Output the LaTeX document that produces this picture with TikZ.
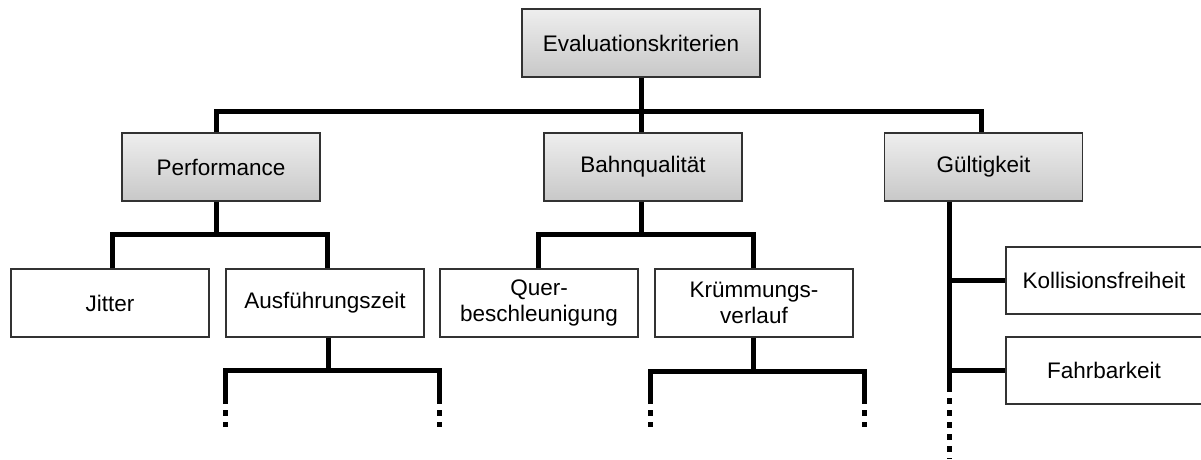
\documentclass[tikz,border=0pt]{standalone}
\usepackage{fontspec}
\setmainfont{Liberation Sans}
\definecolor{gtop}{RGB}{238,238,238}
\definecolor{gbot}{RGB}{200,200,200}
\definecolor{edge}{RGB}{50,50,50}
\begin{document}
\begin{tikzpicture}[x=1pt,y=-1pt,
  box/.style={draw=edge,line width=1.4pt,minimum width=198pt,minimum height=68pt,inner sep=0pt,align=center,
    font=\fontsize{22.5pt}{26pt}\selectfont,text=black},
  graybox/.style={box,top color=gtop,bottom color=gbot},
  whitebox/.style={box,fill=white},
  conn/.style={line width=5pt,line join=miter,black},
  dots/.style={line width=5pt,black,dash pattern=on 6pt off 6pt,dash phase=6pt}]
\fill[white] (0,0) rectangle (1201,459);
\useasboundingbox (0,0) rectangle (1201,459);
% nodes
\node[graybox,minimum width=238pt] (ev) at (641,43) {Evaluationskriterien};
\node[graybox] (perf) at (221,167) {Performance};
\node[graybox] (bq) at (643,167) {Bahnqualität};
\node[graybox] (gue) at (983.5,167) {Gültigkeit};
\node[whitebox] (jit) at (110,303) {Jitter};
\node[whitebox] (aus) at (325,303) {Ausführungszeit};
\node[whitebox] (quer) at (539,303) {Quer-\\beschleunigung};
\node[whitebox] (kruem) at (754,303) {Krümmungs-\\verlauf};
\node[whitebox,minimum height=67pt,minimum width=228pt] (koll) at (1120,280.5) {\hspace*{-32pt}Kollisionsfreiheit};
\node[whitebox,minimum height=67pt,minimum width=228pt] (fahr) at (1120,370.5) {\hspace*{-32pt}Fahrbarkeit};
% junction coordinates
\coordinate (b1) at (641,111);
\coordinate (b2) at (216,234);
\coordinate (b3) at (641,234);
\coordinate (b4) at (328,370);
\coordinate (b5) at (753,371);
\coordinate (d1) at (225,404);
\coordinate (d2) at (439,404);
\coordinate (e1) at (225,427);
\coordinate (e2) at (439,427);
\coordinate (d3) at (650,404);
\coordinate (d4) at (864,404);
\coordinate (e3) at (650,427);
\coordinate (e4) at (864,427);
\coordinate (g1) at (949,392);
\coordinate (g2) at (949,459);
% level 1
\draw[conn] (ev.south) -- (ev.south |- bq.north);
\draw[conn] ([xshift=-5pt]perf.north) |- (b1) -| ([xshift=-2.5pt]gue.north);
% performance
\draw[conn] ([xshift=-5pt]perf.south) -- (b2);
\draw[conn] ([xshift=2pt]jit.north) |- (b2) -| ([xshift=2pt]aus.north);
% bahnqualitaet
\draw[conn] (bq.south -| b3) -- (b3);
\draw[conn] ([xshift=-1pt]quer.north) |- (b3) -| ([xshift=-1pt]kruem.north);
% ausfuehrungszeit
\draw[conn] (aus.south -| b4) -- (b4);
\draw[conn] (d1) |- (b4) -| (d2);
\draw[dots] (d1) -- (e1);
\draw[dots] (d2) -- (e2);
% kruemmungsverlauf
\draw[conn] (kruem.south -| b5) -- (b5);
\draw[conn] (d3) |- (b5) -| (d4);
\draw[dots] (d3) -- (e3);
\draw[dots] (d4) -- (e4);
% gueltigkeit
\draw[conn] (gue.south -| g1) -- (g1);
\draw[conn] (koll.west -| g1) -- (koll.west);
\draw[conn] (fahr.west -| g1) -- (fahr.west);
\draw[dots] (g1) -- (g2);
\end{tikzpicture}
\end{document}
